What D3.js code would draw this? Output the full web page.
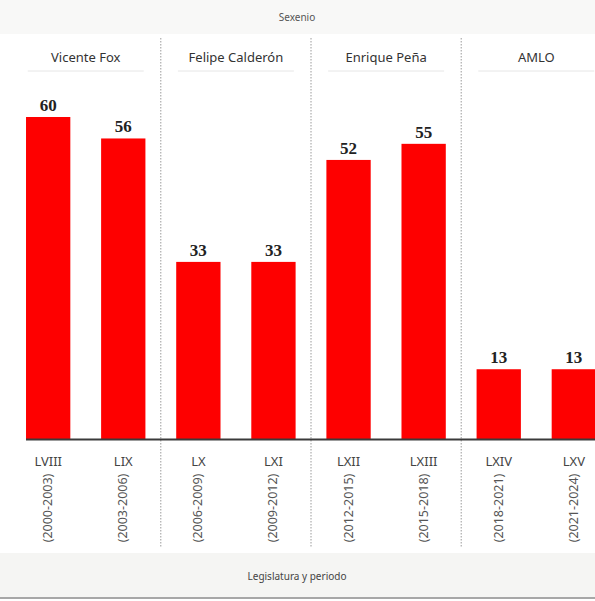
<!DOCTYPE html>
<html>
<head>
<meta charset="utf-8">
<style>
  body { margin: 0; background: #fff; }
  svg { display: block; }
</style>
</head>
<body>
<svg width="595" height="601" font-family="'Noto Sans', sans-serif"></svg>
<script src="https://cdn.jsdelivr.net/npm/d3@7"></script>
<script>
var legislaturas = ["LVIII", "LIX", "LX", "LXI", "LXII", "LXIII", "LXIV", "LXV"];
var periodos = ["(2000-2003)", "(2003-2006)", "(2006-2009)", "(2009-2012)",
                "(2012-2015)", "(2015-2018)", "(2018-2021)", "(2021-2024)"];
var valores = [60, 56, 33, 33, 52, 55, 13, 13];
var sexenios = ["Vicente Fox", "Felipe Calderón", "Enrique Peña", "AMLO"];
var sexenioDe = ["Vicente Fox", "Vicente Fox", "Felipe Calderón", "Felipe Calderón",
                 "Enrique Peña", "Enrique Peña", "AMLO", "AMLO"];

var svg = d3.select("svg"),
    width = +svg.attr("width"),
    height = +svg.attr("height");

var data = legislaturas.map(function(d, i) {
  return {leg: d, periodo: periodos[i], valor: valores[i], sexenio: sexenioDe[i]};
});

var x = d3.scaleBand()
    .domain(legislaturas)
    .range([11, 611])
    .paddingInner(0.41)
    .paddingOuter(0.2);

var y = d3.scaleLinear()
    .domain([0, 60])
    .range([439, 117]);

// faint paper bands at top and bottom
svg.append("rect")
    .attr("x", 0).attr("y", 0).attr("width", width).attr("height", 34)
    .attr("fill", "#f8f8f7");
svg.append("rect")
    .attr("x", 0).attr("y", 553).attr("width", width).attr("height", 44)
    .attr("fill", "#f5f5f3");
svg.append("line")
    .attr("x1", 0).attr("x2", width).attr("y1", 598).attr("y2", 598)
    .attr("stroke", "#8a8a8a").attr("stroke-width", 1.5);

svg.append("text")
    .attr("x", 297).attr("y", 21)
    .attr("text-anchor", "middle")
    .attr("font-size", 10)
    .attr("fill", "#555")
    .text("Sexenio");

svg.append("text")
    .attr("x", 297).attr("y", 580)
    .attr("text-anchor", "middle")
    .attr("font-size", 10)
    .attr("fill", "#444")
    .text("Legislatura y periodo");

// groups by sexenio
var grupos = sexenios.map(function(s) {
  var legs = data.filter(function(d) { return d.sexenio === s; });
  var x0 = x(legs[0].leg), x1 = x(legs[legs.length - 1].leg) + x.bandwidth();
  return {nombre: s, cx: (x0 + x1) / 2};
});

svg.selectAll(".titulo")
    .data(grupos)
  .enter().append("text")
    .attr("class", "titulo")
    .attr("x", function(d) { return d.cx; })
    .attr("y", 62)
    .attr("text-anchor", "middle")
    .attr("font-size", 13)
    .attr("fill", "#333")
    .text(function(d) { return d.nombre; });

svg.selectAll(".subrayado")
    .data(grupos)
  .enter().append("line")
    .attr("class", "subrayado")
    .attr("x1", function(d) { return d.cx - 58; })
    .attr("x2", function(d) { return d.cx + 58; })
    .attr("y1", 71).attr("y2", 71)
    .attr("stroke", "#e6e6e6")
    .attr("stroke-width", 1);

// dotted separators between sexenios
var separadores = [1, 3, 5].map(function(i) {
  return (x(legislaturas[i]) + x.bandwidth() + x(legislaturas[i + 1])) / 2;
});

svg.selectAll(".sep")
    .data(separadores)
  .enter().append("line")
    .attr("class", "sep")
    .attr("x1", function(d) { return d; })
    .attr("x2", function(d) { return d; })
    .attr("y1", 38).attr("y2", 548)
    .attr("stroke", "#9a9a9a")
    .attr("stroke-width", 1)
    .attr("stroke-dasharray", "1.5,1.5");

svg.selectAll(".bar")
    .data(data)
  .enter().append("rect")
    .attr("class", "bar")
    .attr("x", function(d) { return x(d.leg); })
    .attr("y", function(d) { return y(d.valor); })
    .attr("width", x.bandwidth())
    .attr("height", function(d) { return y(0) - y(d.valor); })
    .attr("fill", "#fe0000");

svg.append("line")
    .attr("x1", x(legislaturas[0])).attr("x2", width)
    .attr("y1", y(0) + 0.5).attr("y2", y(0) + 0.5)
    .attr("stroke", "#3a3a3a")
    .attr("stroke-width", 2);

svg.selectAll(".valor")
    .data(data)
  .enter().append("text")
    .attr("class", "valor")
    .attr("x", function(d) { return x(d.leg) + x.bandwidth() / 2; })
    .attr("y", function(d) { return y(d.valor) - 6; })
    .attr("text-anchor", "middle")
    .attr("font-family", "'Liberation Serif', serif")
    .attr("font-weight", "bold")
    .attr("font-size", 17)
    .attr("fill", "#222")
    .text(function(d) { return d.valor; });

svg.selectAll(".leg")
    .data(data)
  .enter().append("text")
    .attr("class", "leg")
    .attr("x", function(d) { return x(d.leg) + x.bandwidth() / 2; })
    .attr("y", 466)
    .attr("text-anchor", "middle")
    .attr("font-size", 13)
    .attr("fill", "#444")
    .text(function(d) { return d.leg; });

svg.selectAll(".periodo")
    .data(data)
  .enter().append("text")
    .attr("class", "periodo")
    .attr("transform", function(d) {
      return "translate(" + (x(d.leg) + x.bandwidth() / 2 + 4) + ",508) rotate(-90)";
    })
    .attr("text-anchor", "middle")
    .attr("font-size", 12.5)
    .attr("fill", "#555")
    .text(function(d) { return d.periodo; });
</script>
</body>
</html>
